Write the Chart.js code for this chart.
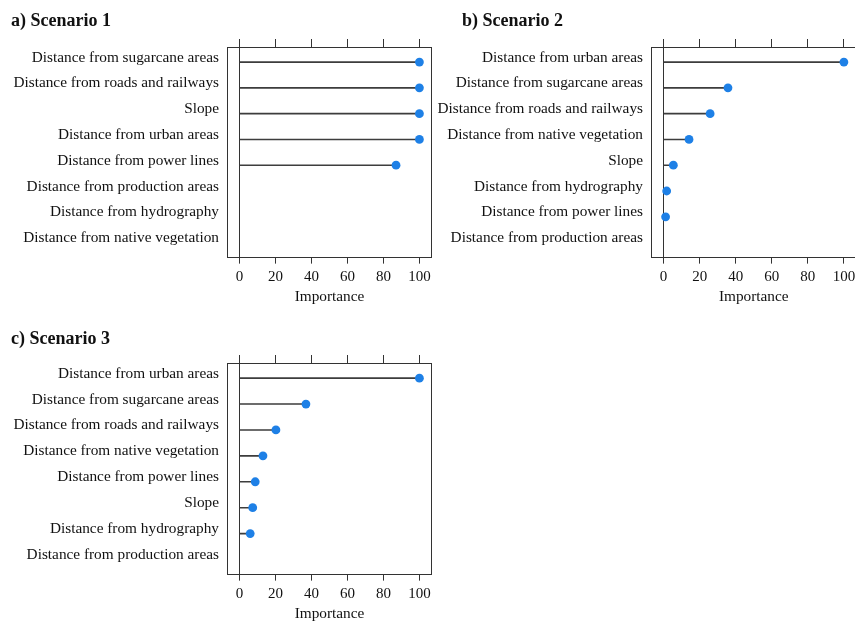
<!DOCTYPE html>
<html>
<head>
<meta charset="utf-8">
<script src="https://cdn.jsdelivr.net/npm/chart.js@4/dist/chart.umd.min.js"></script>
<style>
  html, body { margin: 0; padding: 0; background: #ffffff; }
  body { width: 855px; height: 624px; overflow: hidden; position: relative; }
  .panel { position: absolute; }
</style>
</head>
<body>
<div class="panel" id="pa" style="left:0px;top:0px;width:440px;height:312px;"><canvas id="ca"></canvas></div>
<div class="panel" id="pb" style="left:430px;top:0px;width:440px;height:312px;"><canvas id="cb"></canvas></div>
<div class="panel" id="pc" style="left:0px;top:318px;width:440px;height:306px;"><canvas id="cc"></canvas></div>
<script>
// ---- Data ----
const titleA = "a) Scenario 1";
const labelsA = ["Distance from sugarcane areas", "Distance from roads and railways", "Slope",
  "Distance from urban areas", "Distance from power lines", "Distance from production areas",
  "Distance from hydrography", "Distance from native vegetation"];
const valuesA = [100, 100, 100, 100, 87, null, null, null];

const titleB = "b) Scenario 2";
const labelsB = ["Distance from urban areas", "Distance from sugarcane areas", "Distance from roads and railways",
  "Distance from native vegetation", "Slope", "Distance from hydrography",
  "Distance from power lines", "Distance from production areas"];
const valuesB = [100, 35.7, 25.8, 14.1, 5.4, 1.7, 1.1, null];

const titleC = "c) Scenario 3";
const labelsC = ["Distance from urban areas", "Distance from sugarcane areas", "Distance from roads and railways",
  "Distance from native vegetation", "Distance from power lines", "Slope",
  "Distance from hydrography", "Distance from production areas"];
const valuesC = [100, 36.9, 20.2, 13.0, 8.7, 7.3, 5.9, null];

const xTickValues = [0, 20, 40, 60, 80, 100];
const xAxisTitle = "Importance";

// ---- Styling ----
const SERIF = "'Liberation Serif', 'Times New Roman', serif";
const INK = "#333333";
const DOT = "#1E80E6";
const STEM = "#3d3d3d";

const boxPlugin = {
  id: 'boxBorder',
  afterDatasetsDraw(chart) {
    const a = chart.chartArea;
    const ctx = chart.ctx;
    ctx.save();
    ctx.strokeStyle = INK;
    ctx.lineWidth = 1;
    ctx.strokeRect(Math.round(a.left) + 0.5, Math.round(a.top) + 0.5,
      Math.round(a.right - a.left) - 1, Math.round(a.bottom - a.top) - 1);
    ctx.restore();
  }
};

const panelTitlePlugin = {
  id: 'panelTitle',
  afterDraw(chart, args, opts) {
    const ctx = chart.ctx;
    ctx.save();
    ctx.font = "bold 18px " + SERIF;
    ctx.fillStyle = '#111';
    ctx.textAlign = 'left';
    ctx.textBaseline = 'middle';
    ctx.fillText(opts.text, opts.x, opts.y);
    ctx.restore();
  }
};

function makeChart(id, title, labels, values, cfg) {
  const stems = [];
  const dots = [];
  values.forEach((v, i) => {
    if (v === null) return;
    stems.push({x: 0, y: i}, {x: v, y: i}, {x: null, y: null});
    dots.push({x: v, y: i});
  });
  const n = labels.length;
  const xTicks = () => xTickValues.map(v => ({value: v}));
  return new Chart(document.getElementById(id), {
    type: 'scatter',
    data: {
      datasets: [
        { data: stems, showLine: true, pointRadius: 0, borderColor: STEM, borderWidth: 1.6,
          spanGaps: false, order: 2 },
        { data: dots, pointRadius: 4.4, pointHoverRadius: 4.4, backgroundColor: DOT,
          borderWidth: 0, order: 1 }
      ]
    },
    options: {
      responsive: true,
      maintainAspectRatio: false,
      animation: false,
      events: [],
      layout: { padding: cfg.padding },
      plugins: {
        legend: { display: false },
        tooltip: { enabled: false },
        title: { display: false },
        panelTitle: { text: title, x: cfg.titleX, y: cfg.titleY }
      },
      scales: {
        x: {
          type: 'linear', position: 'bottom', min: -7, max: 107,
          afterBuildTicks: s => { s.ticks = xTicks(); },
          border: { display: false },
          grid: {
            drawOnChartArea: true, drawTicks: true, tickLength: 6,
            color: c => (c.tick && c.tick.value === 0) ? INK : 'rgba(0,0,0,0)',
            tickColor: INK, lineWidth: 1
          },
          ticks: { color: '#111', padding: 4, maxRotation: 0,
            font: { family: SERIF, size: 15, lineHeight: 1.2 } },
          title: { display: true, text: xAxisTitle, color: '#111',
            font: { family: SERIF, size: 15.3, lineHeight: 1.2 }, padding: { top: -2, bottom: 0 } }
        },
        xTop: {
          type: 'linear', position: 'top', min: -7, max: 107,
          afterBuildTicks: s => { s.ticks = xTicks(); },
          border: { display: false },
          grid: { drawOnChartArea: false, drawTicks: true, tickLength: 8, tickColor: INK, lineWidth: 1 },
          ticks: { display: false }
        },
        y: {
          type: 'linear', position: 'left', reverse: true, min: -0.585, max: n - 1 + 0.585,
          afterBuildTicks: s => { s.ticks = labels.map((_, i) => ({value: i})); },
          afterFit: s => { s.width = cfg.yWidth; },
          border: { display: false },
          grid: { display: false, drawTicks: false },
          ticks: { color: '#111', padding: 8, autoSkip: false, labelOffset: -4.5,
            callback: v => labels[v],
            font: { family: SERIF, size: 15.3, lineHeight: 1.2 } }
        }
      }
    },
    plugins: [boxPlugin, panelTitlePlugin]
  });
}

makeChart('ca', titleA, labelsA, valuesA,
  { padding: { left: 11, top: 39, right: 8, bottom: 6 }, titleX: 11, titleY: 21.5, yWidth: 216 });
makeChart('cb', titleB, labelsB, valuesB,
  { padding: { left: 0, top: 39, right: 13.5, bottom: 6 }, titleX: 32, titleY: 21.5, yWidth: 221 });
makeChart('cc', titleC, labelsC, valuesC,
  { padding: { left: 11, top: 37, right: 8, bottom: 1 }, titleX: 11, titleY: 21.5, yWidth: 216 });
</script>
</body>
</html>
